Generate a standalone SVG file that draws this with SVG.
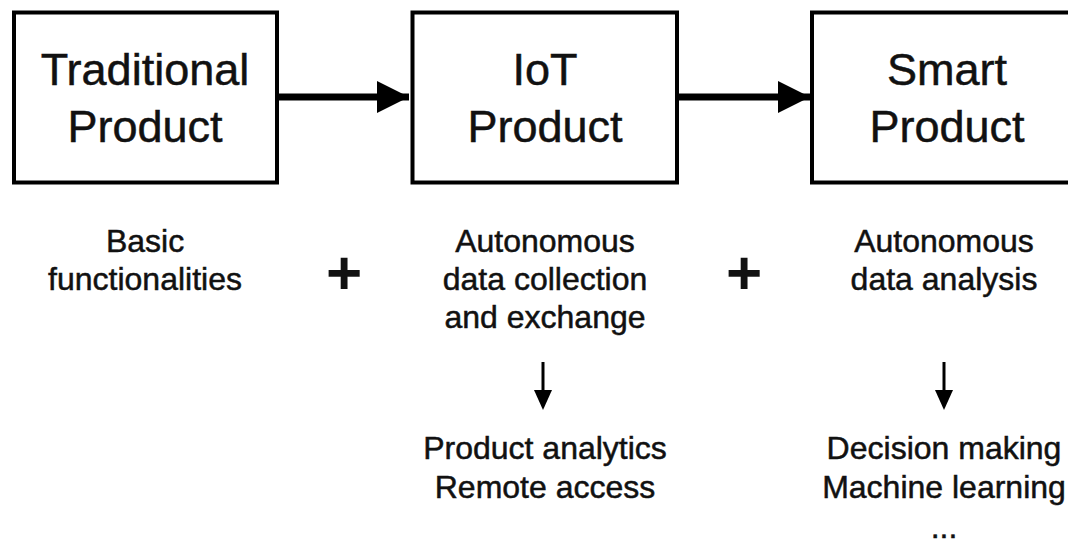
<svg xmlns="http://www.w3.org/2000/svg" width="1068" height="545" viewBox="0 0 1068 545">
  <defs>
    <style>
      .box { fill: #fff; stroke: #000; stroke-width: 4; }
      .title { font-family: "Liberation Sans", Arial, sans-serif; font-size: 45px; fill: #111; stroke: #111; stroke-width: 0.5; text-anchor: middle; }
      .note { font-family: "Liberation Sans", Arial, sans-serif; font-size: 32px; fill: #111; stroke: #111; stroke-width: 0.5; text-anchor: middle; }
      .plus { font-family: "Liberation Sans", Arial, sans-serif; font-size: 62px; font-weight: bold; fill: #111; text-anchor: middle; }
      .flow { stroke: #000; stroke-width: 7; fill: none; }
      .step { stroke: #000; stroke-width: 3; fill: none; }
    </style>
    <marker id="bigHead" viewBox="0 0 32 32" refX="32" refY="16" markerWidth="32" markerHeight="32" markerUnits="userSpaceOnUse" orient="auto">
      <path d="M0,0 L32,16 L0,32 Z" fill="#000"/>
    </marker>
  </defs>
  <rect width="1068" height="545" fill="#fff"/>

  <!-- connectors -->
  <g id="connectors">
    <line class="flow" x1="279" y1="97" x2="409" y2="97" marker-end="url(#bigHead)"/>
    <line class="flow" x1="679" y1="97" x2="810" y2="97" marker-end="url(#bigHead)"/>
    <path class="step" d="M543,362 V392"/>
    <path d="M534,390 L552,390 L543,410 Z" fill="#000"/>
    <path class="step" d="M944,362 V392"/>
    <path d="M935,390 L953,390 L944,410 Z" fill="#000"/>
  </g>

  <!-- traditional product -->
  <g id="traditional">
    <rect class="box" x="14" y="12.5" width="263" height="170"/>
    <text class="title" x="145" y="85">Traditional</text>
    <text class="title" x="145" y="142">Product</text>
    <text class="note" x="145" y="252">Basic</text>
    <text class="note" x="145" y="290">functionalities</text>
  </g>

  <g id="plus1">
    <text class="plus" x="344" y="294">+</text>
  </g>

  <!-- IoT product -->
  <g id="iot">
    <rect class="box" x="412.5" y="12.5" width="264.5" height="170"/>
    <text class="title" x="545" y="85">IoT</text>
    <text class="title" x="545" y="142">Product</text>
    <text class="note" x="545" y="252">Autonomous</text>
    <text class="note" x="545" y="290">data collection</text>
    <text class="note" x="545" y="328">and exchange</text>
  </g>

  <g id="iot-uses">
    <text class="note" x="545" y="459">Product analytics</text>
    <text class="note" x="545" y="498">Remote access</text>
  </g>

  <g id="plus2">
    <text class="plus" x="744" y="294">+</text>
  </g>

  <!-- smart product -->
  <g id="smart">
    <rect class="box" x="812" y="12.5" width="265" height="170"/>
    <text class="title" x="947" y="85">Smart</text>
    <text class="title" x="947" y="142">Product</text>
    <text class="note" x="944" y="252">Autonomous</text>
    <text class="note" x="944" y="290">data analysis</text>
  </g>

  <g id="smart-uses">
    <text class="note" x="944" y="459">Decision making</text>
    <text class="note" x="944" y="498">Machine learning</text>
    <text class="note" x="944" y="538">...</text>
  </g>
</svg>
